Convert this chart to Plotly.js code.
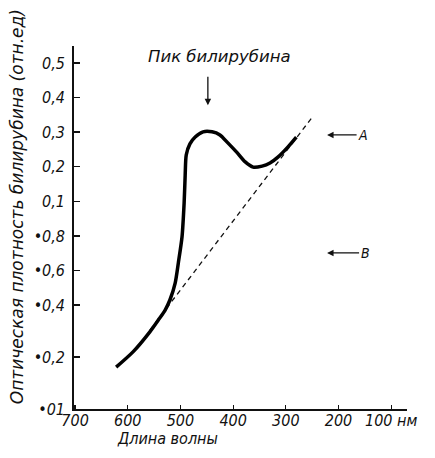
<!DOCTYPE html>
<html>
<head>
<meta charset="utf-8">
<script src="https://cdn.plot.ly/plotly-3.0.1.min.js"></script>
<style>html,body{margin:0;padding:0;background:#fff;}#chart{width:435px;height:458px;}</style>
</head>
<body>
<div id="chart"></div>
<script>
// Wavelength (nm) of the measured absorption curve
const wavelength = [622, 590, 558, 542, 529, 520, 510, 504, 497, 493, 491, 489, 482, 472, 457, 440, 425, 410, 392, 377, 362, 345, 330, 315, 298, 280];
// Position on the (non-uniform) optical density scale
const density = [1.21, 1.65, 2.23, 2.57, 2.86, 3.15, 3.64, 4.22, 4.97, 5.95, 6.76, 7.34, 7.66, 7.86, 8.01, 8.01, 7.92, 7.69, 7.40, 7.14, 6.99, 7.02, 7.11, 7.28, 7.54, 7.86];
// Dashed baseline
const baselineWavelength = [558, 248];
const baselineDensity = [2.28, 8.47];
// Axis ticks
const yTickPos = [0, 1.5, 3, 4, 5, 6, 7, 8, 9, 10];
const yTickText = ['•01', '•0,2', '•0,4', '•0,6', '•0,8', '0,1', '0,2', '0,3', '0,4', '0,5'];
const xTickVals = [700, 600, 500, 400, 300, 200, 100];
const xTickText = ['700', '600', '500', '400', '300', '200', '100 нм'];

const COND = "'DejaVu Sans Condensed', 'Liberation Sans Narrow', sans-serif";
const WIDE = "'DejaVu Sans', 'Liberation Sans', sans-serif";
const f = (size, fam) => ({family: fam || COND, size: size, color: '#111', style: 'italic'});

const traces = [
  {
    x: baselineWavelength, y: baselineDensity, mode: 'lines', type: 'scatter',
    line: {color: '#111', width: 1.3, dash: '5px,4px'}, hoverinfo: 'skip'
  },
  {
    x: wavelength, y: density, mode: 'lines', type: 'scatter',
    line: {color: '#000', width: 3.5, shape: 'spline', smoothing: 0.7}, hoverinfo: 'skip'
  }
];

const layout = {
  width: 435, height: 458,
  margin: {l: 74, r: 28, t: 46, b: 49},
  paper_bgcolor: '#fff', plot_bgcolor: '#fff',
  showlegend: false,
  xaxis: {
    range: [702, 70], showgrid: false, zeroline: false,
    showline: true, linecolor: '#111', linewidth: 1.6,
    ticks: 'inside', ticklen: 4, tickwidth: 1.2, tickcolor: '#111',
    tickvals: xTickVals, ticktext: xTickText, tickfont: f(16),
    ticklabelstandoff: -4
  },
  yaxis: {
    range: [0, 10.49], showgrid: false, zeroline: false,
    showline: true, linecolor: '#111', linewidth: 1.8,
    ticks: 'inside', ticklen: 6, tickwidth: 1.4, tickcolor: '#111',
    tickvals: yTickPos, ticktext: yTickText, tickfont: f(16),
    ticklabelstandoff: 4
  },
  annotations: [
    {xref: 'paper', yref: 'paper', x: 0.438, y: 0.970, text: 'Пик билирубина', showarrow: false,
     font: f(16.5, WIDE), xanchor: 'center', yanchor: 'middle'},
    {xref: 'paper', yref: 'paper', x: 0.402, y: 0.837, text: '', showarrow: true,
     ax: 0, ay: -30, arrowhead: 2, arrowsize: 1, arrowwidth: 1.3, arrowcolor: '#111'},
    {xref: 'paper', yref: 'paper', x: 0.760, y: 0.755, text: 'A', showarrow: true,
     ax: 36, ay: 0, arrowhead: 2, arrowsize: 1, arrowwidth: 1.3, arrowcolor: '#111',
     font: f(14), standoff: 0},
    {xref: 'paper', yref: 'paper', x: 0.760, y: 0.430, text: 'B', showarrow: true,
     ax: 38, ay: 0, arrowhead: 2, arrowsize: 1, arrowwidth: 1.3, arrowcolor: '#111',
     font: f(14), standoff: 0},
    {xref: 'paper', yref: 'paper', x: 0.282, y: -0.0826, text: 'Длина волны', showarrow: false,
     font: f(16), xanchor: 'center', yanchor: 'middle'},
    {xref: 'paper', yref: 'paper', x: -0.171, y: 0.556, text: 'Оптическая плотность билирубина (отн.ед)',
     showarrow: false, textangle: -90, font: f(17, WIDE), xanchor: 'center', yanchor: 'middle'}
  ]
};

Plotly.newPlot('chart', traces, layout, {staticPlot: true, displayModeBar: false});
</script>
</body>
</html>
